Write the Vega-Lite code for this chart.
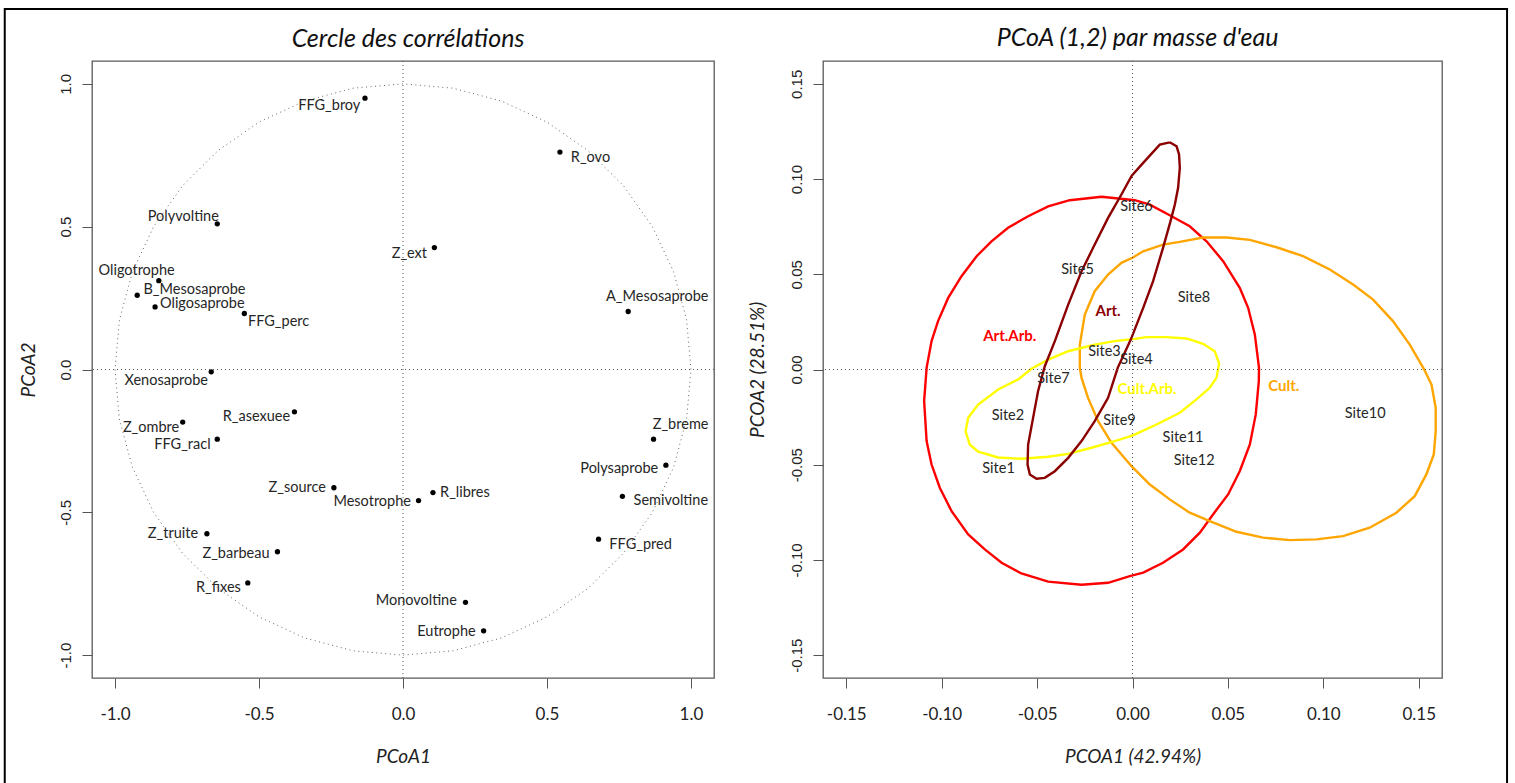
{
  "$schema": "https://vega.github.io/schema/vega-lite/v6.json",
  "autosize": {"type": "pad"},
  "padding": {"left": 3, "top": 7, "right": 0, "bottom": 0},
  "background": "white",
  "bounds": "flush",
  "spacing": 109,
  "datasets": {
    "vars": [
      {"name": "FFG_broy", "x": -0.132, "y": 0.950, "lx": -0.256, "ly": 0.924},
      {"name": "Polyvoltine", "x": -0.645, "y": 0.510, "lx": -0.763, "ly": 0.533},
      {"name": "Oligotrophe", "x": -0.848, "y": 0.311, "lx": -0.925, "ly": 0.344},
      {"name": "B_Mesosaprobe", "x": -0.923, "y": 0.260, "lx": -0.724, "ly": 0.277},
      {"name": "Oligosaprobe", "x": -0.861, "y": 0.219, "lx": -0.697, "ly": 0.228},
      {"name": "FFG_perc", "x": -0.551, "y": 0.196, "lx": -0.432, "ly": 0.167},
      {"name": "R_ovo", "x": 0.545, "y": 0.761, "lx": 0.651, "ly": 0.741},
      {"name": "Z_ext", "x": 0.109, "y": 0.427, "lx": 0.022, "ly": 0.403},
      {"name": "A_Mesosaprobe", "x": 0.782, "y": 0.203, "lx": 0.883, "ly": 0.253},
      {"name": "Xenosaprobe", "x": -0.666, "y": -0.008, "lx": -0.822, "ly": -0.041},
      {"name": "R_asexuee", "x": -0.377, "y": -0.148, "lx": -0.509, "ly": -0.167},
      {"name": "Z_ombre", "x": -0.765, "y": -0.184, "lx": -0.875, "ly": -0.204},
      {"name": "FFG_racl", "x": -0.645, "y": -0.244, "lx": -0.766, "ly": -0.263},
      {"name": "Z_source", "x": -0.240, "y": -0.414, "lx": -0.367, "ly": -0.414},
      {"name": "Z_truite", "x": -0.681, "y": -0.575, "lx": -0.799, "ly": -0.575},
      {"name": "Z_barbeau", "x": -0.436, "y": -0.638, "lx": -0.580, "ly": -0.645},
      {"name": "R_fixes", "x": -0.539, "y": -0.747, "lx": -0.641, "ly": -0.764},
      {"name": "Mesotrophe", "x": 0.054, "y": -0.459, "lx": -0.107, "ly": -0.465},
      {"name": "R_libres", "x": 0.104, "y": -0.431, "lx": 0.215, "ly": -0.433},
      {"name": "Z_breme", "x": 0.870, "y": -0.244, "lx": 0.964, "ly": -0.196},
      {"name": "Polysaprobe", "x": 0.913, "y": -0.335, "lx": 0.751, "ly": -0.348},
      {"name": "Semivoltine", "x": 0.762, "y": -0.444, "lx": 0.930, "ly": -0.461},
      {"name": "FFG_pred", "x": 0.679, "y": -0.594, "lx": 0.825, "ly": -0.613},
      {"name": "Monovoltine", "x": 0.217, "y": -0.815, "lx": 0.046, "ly": -0.811},
      {"name": "Eutrophe", "x": 0.280, "y": -0.915, "lx": 0.151, "ly": -0.918}
    ],
    "circle": [
      {"i": 0, "x": 1, "y": 0}, {"i": 1, "x": 0.9848, "y": 0.1736}, {"i": 2, "x": 0.9397, "y": 0.342},
      {"i": 3, "x": 0.866, "y": 0.5}, {"i": 4, "x": 0.766, "y": 0.6428}, {"i": 5, "x": 0.6428, "y": 0.766},
      {"i": 6, "x": 0.5, "y": 0.866}, {"i": 7, "x": 0.342, "y": 0.9397}, {"i": 8, "x": 0.1736, "y": 0.9848},
      {"i": 9, "x": 0, "y": 1}, {"i": 10, "x": -0.1736, "y": 0.9848}, {"i": 11, "x": -0.342, "y": 0.9397},
      {"i": 12, "x": -0.5, "y": 0.866}, {"i": 13, "x": -0.6428, "y": 0.766}, {"i": 14, "x": -0.766, "y": 0.6428},
      {"i": 15, "x": -0.866, "y": 0.5}, {"i": 16, "x": -0.9397, "y": 0.342}, {"i": 17, "x": -0.9848, "y": 0.1736},
      {"i": 18, "x": -1, "y": 0}, {"i": 19, "x": -0.9848, "y": -0.1736}, {"i": 20, "x": -0.9397, "y": -0.342},
      {"i": 21, "x": -0.866, "y": -0.5}, {"i": 22, "x": -0.766, "y": -0.6428}, {"i": 23, "x": -0.6428, "y": -0.766},
      {"i": 24, "x": -0.5, "y": -0.866}, {"i": 25, "x": -0.342, "y": -0.9397}, {"i": 26, "x": -0.1736, "y": -0.9848},
      {"i": 27, "x": 0, "y": -1}, {"i": 28, "x": 0.1736, "y": -0.9848}, {"i": 29, "x": 0.342, "y": -0.9397},
      {"i": 30, "x": 0.5, "y": -0.866}, {"i": 31, "x": 0.6428, "y": -0.766}, {"i": 32, "x": 0.766, "y": -0.6428},
      {"i": 33, "x": 0.866, "y": -0.5}, {"i": 34, "x": 0.9397, "y": -0.342}, {"i": 35, "x": 0.9848, "y": -0.1736},
      {"i": 36, "x": 1, "y": 0}
    ],
    "sites": [
      {"name": "Site1", "x": -0.0702, "y": -0.0520},
      {"name": "Site2", "x": -0.0653, "y": -0.0245},
      {"name": "Site3", "x": -0.0147, "y": 0.0091},
      {"name": "Site4", "x": 0.0021, "y": 0.0052},
      {"name": "Site5", "x": -0.0288, "y": 0.0520},
      {"name": "Site6", "x": 0.0021, "y": 0.0852},
      {"name": "Site7", "x": -0.0414, "y": -0.0052},
      {"name": "Site8", "x": 0.0322, "y": 0.0373},
      {"name": "Site9", "x": -0.0068, "y": -0.0268},
      {"name": "Site10", "x": 0.1219, "y": -0.0236},
      {"name": "Site11", "x": 0.0265, "y": -0.0362},
      {"name": "Site12", "x": 0.0323, "y": -0.0478}
    ],
    "groups": [
      {"g": "Art.Arb.", "x": -0.0643, "y": 0.0175},
      {"g": "Art.", "x": -0.0128, "y": 0.0306},
      {"g": "Cult.Arb.", "x": 0.0076, "y": -0.0101},
      {"g": "Cult.", "x": 0.0793, "y": -0.0088}
    ],
    "ellipses": [
      {"g": "Art.Arb.", "i": 0, "x": -0.0162, "y": 0.0907},
      {"g": "Art.Arb.", "i": 1, "x": 0.0012, "y": 0.0889},
      {"g": "Art.Arb.", "i": 2, "x": 0.0091, "y": 0.0866},
      {"g": "Art.Arb.", "i": 3, "x": 0.0195, "y": 0.0810},
      {"g": "Art.Arb.", "i": 4, "x": 0.0300, "y": 0.0752},
      {"g": "Art.Arb.", "i": 5, "x": 0.0388, "y": 0.0673},
      {"g": "Art.Arb.", "i": 6, "x": 0.0475, "y": 0.0569},
      {"g": "Art.Arb.", "i": 7, "x": 0.0562, "y": 0.0429},
      {"g": "Art.Arb.", "i": 8, "x": 0.0606, "y": 0.0324},
      {"g": "Art.Arb.", "i": 9, "x": 0.0641, "y": 0.0184},
      {"g": "Art.Arb.", "i": 10, "x": 0.0663, "y": 0.0009},
      {"g": "Art.Arb.", "i": 11, "x": 0.0662, "y": -0.0061},
      {"g": "Art.Arb.", "i": 12, "x": 0.0646, "y": -0.0236},
      {"g": "Art.Arb.", "i": 13, "x": 0.0615, "y": -0.0394},
      {"g": "Art.Arb.", "i": 14, "x": 0.0562, "y": -0.0534},
      {"g": "Art.Arb.", "i": 15, "x": 0.0501, "y": -0.0656},
      {"g": "Art.Arb.", "i": 16, "x": 0.0422, "y": -0.0761},
      {"g": "Art.Arb.", "i": 17, "x": 0.0353, "y": -0.0857},
      {"g": "Art.Arb.", "i": 18, "x": 0.0265, "y": -0.0945},
      {"g": "Art.Arb.", "i": 19, "x": 0.0160, "y": -0.1015},
      {"g": "Art.Arb.", "i": 20, "x": 0.0056, "y": -0.1067},
      {"g": "Art.Arb.", "i": 21, "x": -0.0014, "y": -0.1085},
      {"g": "Art.Arb.", "i": 22, "x": -0.0128, "y": -0.1120},
      {"g": "Art.Arb.", "i": 23, "x": -0.0267, "y": -0.1130},
      {"g": "Art.Arb.", "i": 24, "x": -0.0442, "y": -0.1114},
      {"g": "Art.Arb.", "i": 25, "x": -0.0582, "y": -0.1071},
      {"g": "Art.Arb.", "i": 26, "x": -0.0686, "y": -0.1015},
      {"g": "Art.Arb.", "i": 27, "x": -0.0774, "y": -0.0945},
      {"g": "Art.Arb.", "i": 28, "x": -0.0861, "y": -0.0866},
      {"g": "Art.Arb.", "i": 29, "x": -0.0948, "y": -0.0744},
      {"g": "Art.Arb.", "i": 30, "x": -0.1010, "y": -0.0621},
      {"g": "Art.Arb.", "i": 31, "x": -0.1053, "y": -0.0499},
      {"g": "Art.Arb.", "i": 32, "x": -0.1079, "y": -0.0376},
      {"g": "Art.Arb.", "i": 33, "x": -0.1092, "y": -0.0166},
      {"g": "Art.Arb.", "i": 34, "x": -0.1079, "y": 0.0009},
      {"g": "Art.Arb.", "i": 35, "x": -0.1053, "y": 0.0149},
      {"g": "Art.Arb.", "i": 36, "x": -0.1019, "y": 0.0254},
      {"g": "Art.Arb.", "i": 37, "x": -0.0966, "y": 0.0376},
      {"g": "Art.Arb.", "i": 38, "x": -0.0896, "y": 0.0490},
      {"g": "Art.Arb.", "i": 39, "x": -0.0817, "y": 0.0595},
      {"g": "Art.Arb.", "i": 40, "x": -0.0739, "y": 0.0673},
      {"g": "Art.Arb.", "i": 41, "x": -0.0652, "y": 0.0744},
      {"g": "Art.Arb.", "i": 42, "x": -0.0547, "y": 0.0805},
      {"g": "Art.Arb.", "i": 43, "x": -0.0442, "y": 0.0857},
      {"g": "Art.Arb.", "i": 44, "x": -0.0329, "y": 0.0889},
      {"g": "Art.Arb.", "i": 45, "x": -0.0162, "y": 0.0907},

      {"g": "Cult.", "i": 0, "x": -0.0276, "y": 0.0009},
      {"g": "Cult.", "i": 1, "x": -0.0276, "y": 0.0131},
      {"g": "Cult.", "i": 2, "x": -0.0250, "y": 0.0289},
      {"g": "Cult.", "i": 3, "x": -0.0198, "y": 0.0411},
      {"g": "Cult.", "i": 4, "x": -0.0128, "y": 0.0499},
      {"g": "Cult.", "i": 5, "x": -0.0058, "y": 0.0560},
      {"g": "Cult.", "i": 6, "x": 0.0002, "y": 0.0588},
      {"g": "Cult.", "i": 7, "x": 0.0056, "y": 0.0621},
      {"g": "Cult.", "i": 8, "x": 0.0160, "y": 0.0656},
      {"g": "Cult.", "i": 9, "x": 0.0248, "y": 0.0670},
      {"g": "Cult.", "i": 10, "x": 0.0370, "y": 0.0693},
      {"g": "Cult.", "i": 11, "x": 0.0493, "y": 0.0693},
      {"g": "Cult.", "i": 12, "x": 0.0615, "y": 0.0681},
      {"g": "Cult.", "i": 13, "x": 0.0755, "y": 0.0642},
      {"g": "Cult.", "i": 14, "x": 0.0894, "y": 0.0595},
      {"g": "Cult.", "i": 15, "x": 0.1034, "y": 0.0525},
      {"g": "Cult.", "i": 16, "x": 0.1156, "y": 0.0446},
      {"g": "Cult.", "i": 17, "x": 0.1261, "y": 0.0367},
      {"g": "Cult.", "i": 18, "x": 0.1365, "y": 0.0254},
      {"g": "Cult.", "i": 19, "x": 0.1453, "y": 0.0131},
      {"g": "Cult.", "i": 20, "x": 0.1526, "y": 0.0005},
      {"g": "Cult.", "i": 21, "x": 0.1567, "y": -0.0079},
      {"g": "Cult.", "i": 22, "x": 0.1589, "y": -0.0201},
      {"g": "Cult.", "i": 23, "x": 0.1589, "y": -0.0324},
      {"g": "Cult.", "i": 24, "x": 0.1579, "y": -0.0446},
      {"g": "Cult.", "i": 25, "x": 0.1540, "y": -0.0551},
      {"g": "Cult.", "i": 26, "x": 0.1479, "y": -0.0665},
      {"g": "Cult.", "i": 27, "x": 0.1383, "y": -0.0752},
      {"g": "Cult.", "i": 28, "x": 0.1243, "y": -0.0831},
      {"g": "Cult.", "i": 29, "x": 0.1103, "y": -0.0875},
      {"g": "Cult.", "i": 30, "x": 0.0964, "y": -0.0892},
      {"g": "Cult.", "i": 31, "x": 0.0824, "y": -0.0896},
      {"g": "Cult.", "i": 32, "x": 0.0684, "y": -0.0883},
      {"g": "Cult.", "i": 33, "x": 0.0545, "y": -0.0852},
      {"g": "Cult.", "i": 34, "x": 0.0405, "y": -0.0796},
      {"g": "Cult.", "i": 35, "x": 0.0300, "y": -0.0752},
      {"g": "Cult.", "i": 36, "x": 0.0195, "y": -0.0682},
      {"g": "Cult.", "i": 37, "x": 0.0091, "y": -0.0604},
      {"g": "Cult.", "i": 38, "x": -0.0004, "y": -0.0509},
      {"g": "Cult.", "i": 39, "x": -0.0110, "y": -0.0385},
      {"g": "Cult.", "i": 40, "x": -0.0180, "y": -0.0271},
      {"g": "Cult.", "i": 41, "x": -0.0233, "y": -0.0149},
      {"g": "Cult.", "i": 42, "x": -0.0267, "y": -0.0044},
      {"g": "Cult.", "i": 43, "x": -0.0276, "y": 0.0009},

      {"g": "Cult.Arb.", "i": 0, "x": -0.0875, "y": -0.0324},
      {"g": "Cult.Arb.", "i": 1, "x": -0.0861, "y": -0.0254},
      {"g": "Cult.Arb.", "i": 2, "x": -0.0809, "y": -0.0184},
      {"g": "Cult.Arb.", "i": 3, "x": -0.0704, "y": -0.0105},
      {"g": "Cult.Arb.", "i": 4, "x": -0.0599, "y": -0.0052},
      {"g": "Cult.Arb.", "i": 5, "x": -0.0528, "y": 0.0005},
      {"g": "Cult.Arb.", "i": 6, "x": -0.0442, "y": 0.0052},
      {"g": "Cult.Arb.", "i": 7, "x": -0.0337, "y": 0.0096},
      {"g": "Cult.Arb.", "i": 8, "x": -0.0198, "y": 0.0131},
      {"g": "Cult.Arb.", "i": 9, "x": -0.0093, "y": 0.0149},
      {"g": "Cult.Arb.", "i": 10, "x": 0.0012, "y": 0.0161},
      {"g": "Cult.Arb.", "i": 11, "x": 0.0073, "y": 0.0170},
      {"g": "Cult.Arb.", "i": 12, "x": 0.0178, "y": 0.0170},
      {"g": "Cult.Arb.", "i": 13, "x": 0.0283, "y": 0.0163},
      {"g": "Cult.Arb.", "i": 14, "x": 0.0370, "y": 0.0135},
      {"g": "Cult.Arb.", "i": 15, "x": 0.0431, "y": 0.0096},
      {"g": "Cult.Arb.", "i": 16, "x": 0.0454, "y": 0.0031},
      {"g": "Cult.Arb.", "i": 17, "x": 0.0440, "y": -0.0044},
      {"g": "Cult.Arb.", "i": 18, "x": 0.0405, "y": -0.0096},
      {"g": "Cult.Arb.", "i": 19, "x": 0.0335, "y": -0.0157},
      {"g": "Cult.Arb.", "i": 20, "x": 0.0248, "y": -0.0227},
      {"g": "Cult.Arb.", "i": 21, "x": 0.0126, "y": -0.0289},
      {"g": "Cult.Arb.", "i": 22, "x": 0.0002, "y": -0.0346},
      {"g": "Cult.Arb.", "i": 23, "x": -0.0093, "y": -0.0376},
      {"g": "Cult.Arb.", "i": 24, "x": -0.0215, "y": -0.0411},
      {"g": "Cult.Arb.", "i": 25, "x": -0.0337, "y": -0.0443},
      {"g": "Cult.Arb.", "i": 26, "x": -0.0442, "y": -0.0458},
      {"g": "Cult.Arb.", "i": 27, "x": -0.0582, "y": -0.0469},
      {"g": "Cult.Arb.", "i": 28, "x": -0.0704, "y": -0.0462},
      {"g": "Cult.Arb.", "i": 29, "x": -0.0809, "y": -0.0432},
      {"g": "Cult.Arb.", "i": 30, "x": -0.0853, "y": -0.0394},
      {"g": "Cult.Arb.", "i": 31, "x": -0.0875, "y": -0.0324},

      {"g": "Art.", "i": 0, "x": 0.0195, "y": 0.1193},
      {"g": "Art.", "i": 1, "x": 0.0231, "y": 0.1172},
      {"g": "Art.", "i": 2, "x": 0.0244, "y": 0.1129},
      {"g": "Art.", "i": 3, "x": 0.0248, "y": 0.1059},
      {"g": "Art.", "i": 4, "x": 0.0239, "y": 0.0954},
      {"g": "Art.", "i": 5, "x": 0.0222, "y": 0.0866},
      {"g": "Art.", "i": 6, "x": 0.0199, "y": 0.0778},
      {"g": "Art.", "i": 7, "x": 0.0160, "y": 0.0639},
      {"g": "Art.", "i": 8, "x": 0.0108, "y": 0.0464},
      {"g": "Art.", "i": 9, "x": 0.0056, "y": 0.0324},
      {"g": "Art.", "i": 10, "x": -0.0009, "y": 0.0157},
      {"g": "Art.", "i": 11, "x": -0.0077, "y": 0.0010},
      {"g": "Art.", "i": 12, "x": -0.0128, "y": -0.0149},
      {"g": "Art.", "i": 13, "x": -0.0198, "y": -0.0271},
      {"g": "Art.", "i": 14, "x": -0.0267, "y": -0.0376},
      {"g": "Art.", "i": 15, "x": -0.0337, "y": -0.0464},
      {"g": "Art.", "i": 16, "x": -0.0407, "y": -0.0534},
      {"g": "Art.", "i": 17, "x": -0.0460, "y": -0.0569},
      {"g": "Art.", "i": 18, "x": -0.0503, "y": -0.0574},
      {"g": "Art.", "i": 19, "x": -0.0538, "y": -0.0551},
      {"g": "Art.", "i": 20, "x": -0.0550, "y": -0.0499},
      {"g": "Art.", "i": 21, "x": -0.0547, "y": -0.0394},
      {"g": "Art.", "i": 22, "x": -0.0521, "y": -0.0254},
      {"g": "Art.", "i": 23, "x": -0.0495, "y": -0.0114},
      {"g": "Art.", "i": 24, "x": -0.0460, "y": 0.0016},
      {"g": "Art.", "i": 25, "x": -0.0407, "y": 0.0149},
      {"g": "Art.", "i": 26, "x": -0.0337, "y": 0.0341},
      {"g": "Art.", "i": 27, "x": -0.0267, "y": 0.0516},
      {"g": "Art.", "i": 28, "x": -0.0198, "y": 0.0656},
      {"g": "Art.", "i": 29, "x": -0.0128, "y": 0.0796},
      {"g": "Art.", "i": 30, "x": -0.0058, "y": 0.0919},
      {"g": "Art.", "i": 31, "x": -0.0004, "y": 0.1018},
      {"g": "Art.", "i": 32, "x": 0.0056, "y": 0.1085},
      {"g": "Art.", "i": 33, "x": 0.0143, "y": 0.1181},
      {"g": "Art.", "i": 34, "x": 0.0195, "y": 0.1193}
    ]
  },
  "hconcat": [
    {
      "width": 622,
      "height": 617,
      "title": {
        "text": "Cercle des corrélations",
        "font": "Lato", "fontStyle": "italic", "fontWeight": "normal", "fontSize": 25,
        "color": "#111", "anchor": "middle", "frame": "group",
        "baseline": "alphabetic", "offset": -64.4, "dx": 5
      },
      "layer": [
        {
          "data": {"name": "circle"},
          "mark": {"type": "line", "color": "#666", "strokeWidth": 1, "strokeDash": [1, 3.5]},
          "encoding": {
            "x": {
              "field": "x", "type": "quantitative",
              "scale": {"domain": [-1.08, 1.08], "nice": false, "zero": false},
              "axis": {
                "title": "PCoA1", "values": [-1, -0.5, 0, 0.5, 1],
                "labelExpr": "replace(format(datum.value, '.1f'), '\u2212', '-')",
                "labelFont": "Lato", "labelFontSize": 17, "labelBaseline": "middle", "labelPadding": 26.7,
                "titleY": 78, "titleBaseline": "middle"
              }
            },
            "y": {
              "field": "y", "type": "quantitative",
              "scale": {"domain": [-1.08, 1.08], "nice": false, "zero": false},
              "axis": {
                "title": "PCoA2", "values": [-1, -0.5, 0, 0.5, 1],
                "labelExpr": "replace(format(datum.value, '.1f'), '\u2212', '-')",
                "labelFont": "Liberation Sans", "labelFontSize": 15, "labelAngle": -90,
                "labelAlign": "center", "labelBaseline": "alphabetic", "labelPadding": 12,
                "titleX": -64, "titleBaseline": "middle"
              }
            },
            "order": {"field": "i", "type": "quantitative"}
          }
        },
        {
          "data": {"values": [{}]},
          "mark": {"type": "rule", "color": "#555", "strokeWidth": 1, "strokeDash": [1, 3]},
          "encoding": {
            "x": {"datum": 0, "type": "quantitative"}
          }
        },
        {
          "data": {"values": [{}]},
          "mark": {"type": "rule", "color": "#555", "strokeWidth": 1, "strokeDash": [1, 3]},
          "encoding": {
            "y": {"datum": 0, "type": "quantitative"}
          }
        },
        {
          "data": {"name": "vars"},
          "mark": {"type": "point", "filled": true, "shape": "circle", "size": 28, "color": "#000", "opacity": 1},
          "encoding": {
            "x": {"field": "x", "type": "quantitative"},
            "y": {"field": "y", "type": "quantitative"}
          }
        },
        {
          "data": {"name": "vars"},
          "mark": {"type": "text", "font": "Lato", "fontSize": 14.5, "color": "#262626", "align": "center", "baseline": "middle"},
          "encoding": {
            "x": {"field": "lx", "type": "quantitative"},
            "y": {"field": "ly", "type": "quantitative"},
            "text": {"field": "name"}
          }
        },
        {
          "data": {"values": [{}]},
          "mark": {"type": "rect", "filled": false, "stroke": "#000", "strokeWidth": 2, "clip": false},
          "encoding": {
            "x": {"datum": -1.383, "type": "quantitative"},
            "x2": {"datum": 3.834},
            "y": {"datum": 1.262, "type": "quantitative"},
            "y2": {"datum": -1.5}
          }
        }
      ]
    },
    {
      "width": 619,
      "height": 617,
      "title": {
        "text": "PCoA (1,2) par masse d'eau",
        "font": "Lato", "fontStyle": "italic", "fontWeight": "normal", "fontSize": 25,
        "color": "#111", "anchor": "middle", "frame": "group",
        "baseline": "alphabetic", "offset": -10.4, "dx": 5
      },
      "layer": [
        {
          "data": {"name": "ellipses"},
          "mark": {"type": "line", "strokeWidth": 2.4},
          "encoding": {
            "x": {
              "field": "x", "type": "quantitative",
              "scale": {"domain": [-0.1622, 0.1622], "nice": false, "zero": false},
              "axis": {
                "title": "PCOA1 (42.94%)", "values": [-0.15, -0.1, -0.05, 0, 0.05, 0.1, 0.15],
                "labelExpr": "replace(format(datum.value, '.2f'), '\u2212', '-')",
                "labelFont": "Lato", "labelFontSize": 17, "labelBaseline": "middle", "labelPadding": 26.7,
                "titleY": 78, "titleBaseline": "middle"
              }
            },
            "y": {
              "field": "y", "type": "quantitative",
              "scale": {"domain": [-0.162, 0.162], "nice": false, "zero": false},
              "axis": {
                "title": "PCOA2 (28.51%)", "values": [-0.15, -0.1, -0.05, 0, 0.05, 0.1, 0.15],
                "labelExpr": "replace(format(datum.value, '.2f'), '\u2212', '-')",
                "labelFont": "Liberation Sans", "labelFontSize": 15, "labelAngle": -90,
                "labelAlign": "center", "labelBaseline": "alphabetic", "labelPadding": 12,
                "titleX": -66, "titleBaseline": "middle"
              }
            },
            "color": {
              "field": "g", "type": "nominal",
              "scale": {"domain": ["Art.Arb.", "Art.", "Cult.Arb.", "Cult."], "range": ["#ff0000", "#8b0000", "#ffff00", "#ffa500"]},
              "legend": null
            },
            "order": {"field": "i", "type": "quantitative"}
          }
        },
        {
          "data": {"values": [{}]},
          "mark": {"type": "rule", "color": "#555", "strokeWidth": 1, "strokeDash": [1, 3]},
          "encoding": {
            "x": {"datum": 0, "type": "quantitative"}
          }
        },
        {
          "data": {"values": [{}]},
          "mark": {"type": "rule", "color": "#555", "strokeWidth": 1, "strokeDash": [1, 3]},
          "encoding": {
            "y": {"datum": 0, "type": "quantitative"}
          }
        },
        {
          "data": {"name": "sites"},
          "mark": {"type": "text", "font": "Lato", "fontSize": 14.5, "color": "#262626", "align": "center", "baseline": "middle"},
          "encoding": {
            "x": {"field": "x", "type": "quantitative"},
            "y": {"field": "y", "type": "quantitative"},
            "text": {"field": "name"}
          }
        },
        {
          "data": {"name": "groups"},
          "mark": {"type": "text", "font": "Lato", "fontSize": 15, "fontWeight": "bold", "align": "center", "baseline": "middle"},
          "encoding": {
            "x": {"field": "x", "type": "quantitative"},
            "y": {"field": "y", "type": "quantitative"},
            "text": {"field": "g"},
            "color": {"field": "g", "type": "nominal", "legend": null}
          }
        }
      ]
    }
  ],
  "config": {
    "view": {"stroke": "#595959", "strokeWidth": 1.3},
    "axis": {
      "domain": false, "grid": false, "ticks": true, "tickSize": 10, "tickColor": "#555", "tickWidth": 1,
      "labelColor": "#222", "labelFlush": false, "labelOverlap": false, "labelBound": false,
      "titleColor": "#222", "titleFont": "Lato", "titleFontStyle": "italic", "titleFontWeight": "normal", "titleFontSize": 19
    }
  }
}
